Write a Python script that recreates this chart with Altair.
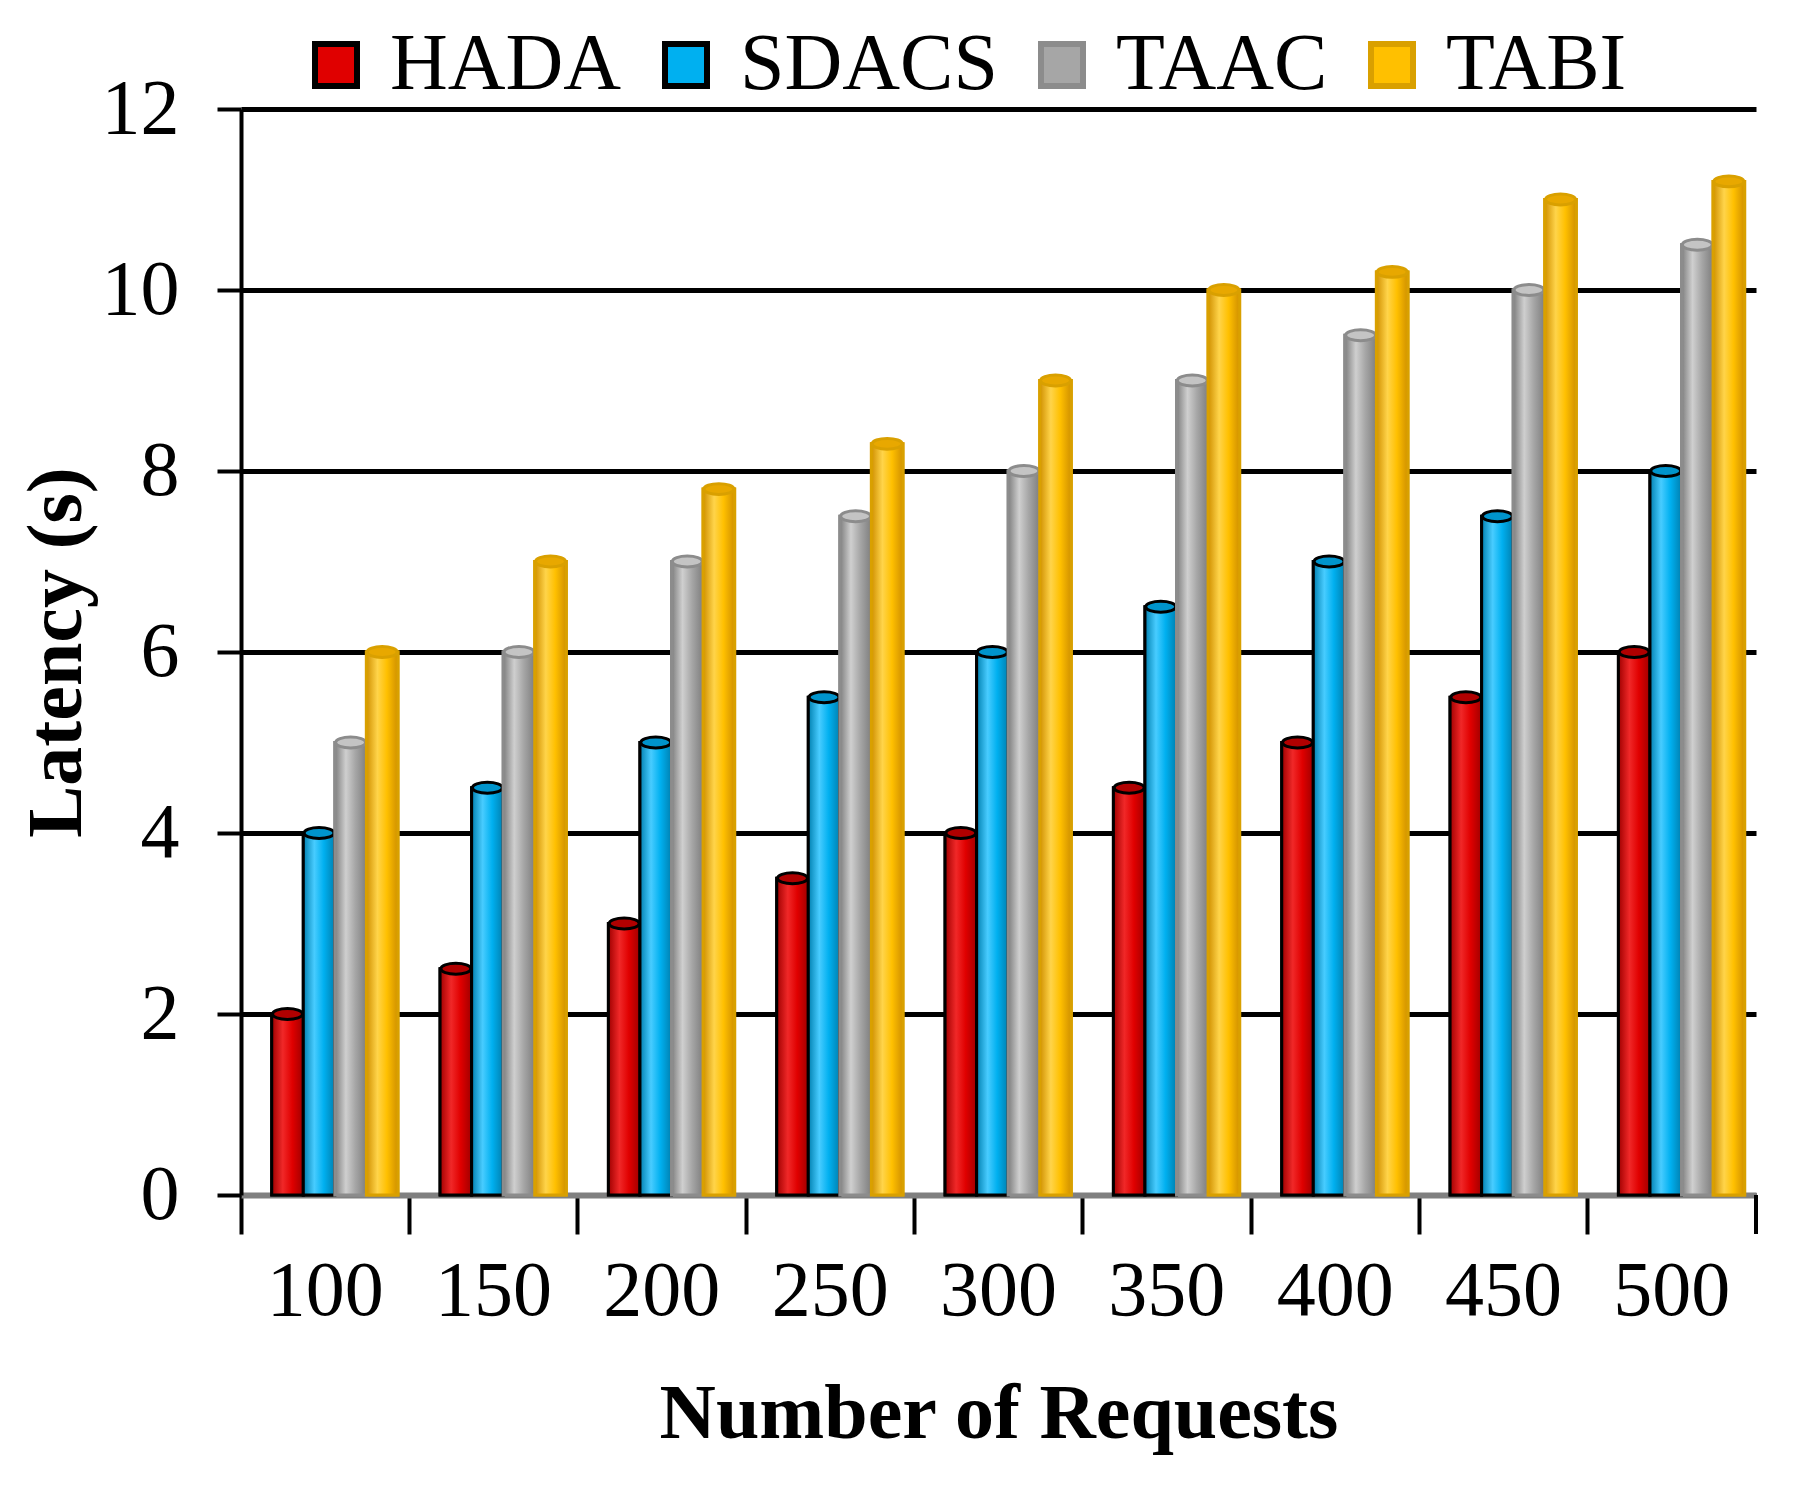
import altair as alt
import pandas as pd

requests = ["100", "150", "200", "250", "300", "350", "400", "450", "500"]
series = ["HADA", "SDACS", "TAAC", "TABI"]
hada = [2, 2.5, 3, 3.5, 4, 4.5, 5, 5.5, 6]
sdacs = [4, 4.5, 5, 5.5, 6, 6.5, 7, 7.5, 8]
taac = [5, 6, 7, 7.5, 8, 9, 9.5, 10, 10.5]
tabi = [6, 7, 7.8, 8.3, 9, 10, 10.2, 11, 11.2]
fill_colors = ["#E00000", "#00B0F0", "#A6A6A6", "#FFC000"]
stroke_colors = ["#000000", "#000000", "#8C8C8C", "#D9A000"]
edge_colors = ["#A00000", "#0080B0", "#7E7E7E", "#D09000"]
light_colors = ["#F02828", "#48CCFF", "#CFCFCF", "#FFD44A"]
top_colors = ["#B00000", "#0094CC", "#C4C4C4", "#E8A800"]
y_ticks = [0, 2, 4, 6, 8, 10, 12]

rows = []
for name, vals in zip(series, [hada, sdacs, taac, tabi]):
    for r, v in zip(requests, vals):
        rows.append({"requests": r, "series": name, "latency": v})
df = pd.DataFrame(rows)

FONT = "Liberation Serif"
W, H = 1515, 1086

legend = alt.Legend(
    title=None, orient="none", legendX=55, legendY=-84, direction="horizontal",
    columns=4, columnPadding=24, labelFontSize=80, labelFont=FONT, labelColor="black",
    labelOffset=14, symbolType="square", symbolSize=1764, symbolStrokeWidth=6,
    labelLimit=500,
)

x_enc = alt.X("requests:N", sort=requests,
              scale=alt.Scale(paddingInner=0, paddingOuter=0),
              axis=alt.Axis(title="Number of Requests", bandPosition=0, labelAngle=0,
                            tickSize=39, tickWidth=4, tickColor="black",
                            labelPadding=18, labelFontSize=78, labelFont=FONT,
                            labelColor="black", domainColor="#808080", domainWidth=6,
                            titleFontSize=78, titleFont=FONT, titleFontWeight="bold",
                            titleColor="black", titlePadding=45, grid=False))
xoff_enc = alt.XOffset("series:N", sort=series,
                       scale=alt.Scale(domain=series, paddingInner=0,
                                       paddingOuter=0.667, align=0.73))
y_enc = alt.Y("latency:Q", scale=alt.Scale(domain=[0, 12]),
              axis=alt.Axis(title="Latency (s)", values=y_ticks, format="d",
                            tickSize=24, tickWidth=4,
                            tickColor="black", labelPadding=38, labelFontSize=78,
                            labelFont=FONT, labelColor="black", domainColor="black",
                            domainWidth=4, grid=True, gridColor="black", gridWidth=5,
                            titleFontSize=78, titleFont=FONT, titleFontWeight="bold",
                            titleColor="black", titlePadding=5))

base = alt.Chart(df)

legend_bars = base.mark_bar(strokeWidth=3).encode(
    x=x_enc, xOffset=xoff_enc, y=y_enc,
    fill=alt.Fill("series:N", sort=series,
                  scale=alt.Scale(domain=series, range=fill_colors), legend=legend),
    stroke=alt.Stroke("series:N", sort=series,
                      scale=alt.Scale(domain=series, range=stroke_colors), legend=legend),
)

layers = [legend_bars]
ellipse = "M-1,0 A1,0.36 0 1,0 1,0 A1,0.36 0 1,0 -1,0 Z"
for i, name in enumerate(series):
    grad = alt.Gradient(
        gradient="linear", x1=0, x2=1, y1=0, y2=0,
        stops=[alt.GradientStop(color=edge_colors[i], offset=0),
               alt.GradientStop(color=light_colors[i], offset=0.35),
               alt.GradientStop(color=fill_colors[i], offset=0.65),
               alt.GradientStop(color=edge_colors[i], offset=1)],
    )
    layers.append(
        base.transform_filter(alt.datum.series == name)
        .mark_bar(fill=grad, stroke=stroke_colors[i], strokeWidth=3)
        .encode(x=x_enc, xOffset=xoff_enc, y=y_enc)
    )
    layers.append(
        base.transform_filter(alt.datum.series == name)
        .mark_point(shape=ellipse, size=900, filled=True, fill=top_colors[i],
                    stroke=stroke_colors[i], strokeWidth=3, opacity=1)
        .encode(x=x_enc, xOffset=xoff_enc, y=y_enc)
    )

end_tick = base.mark_rule(color="black", strokeWidth=4).encode(
    x=alt.value(W), y=alt.value(H), y2=alt.value(H + 39)
)
layers.append(end_tick)

chart = alt.layer(*layers).properties(
    width=W, height=H,
    padding={"left": 233, "top": 101, "right": 35, "bottom": 270},
    autosize="none",
).configure(font=FONT, background="white").configure_view(stroke=None)

chart.save("out.html", embed_options={"renderer": "svg", "actions": False})
